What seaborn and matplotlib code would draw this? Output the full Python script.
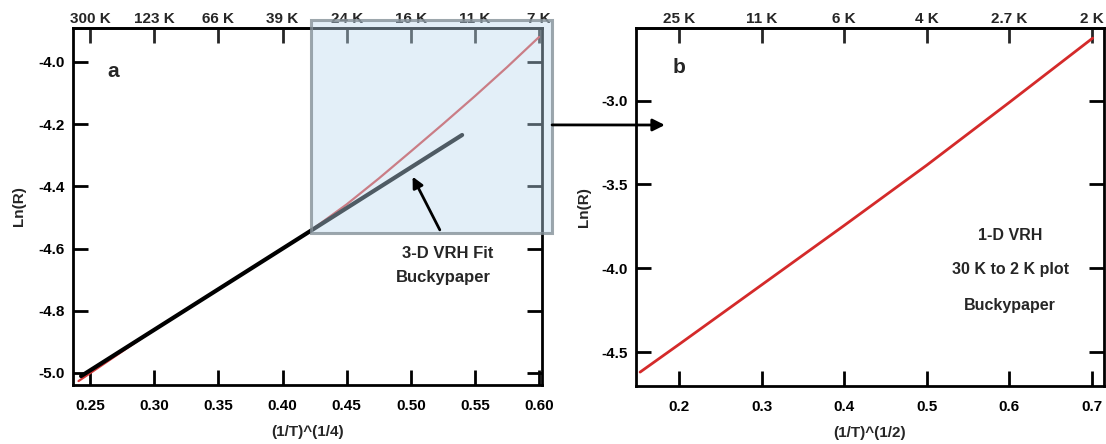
import matplotlib
matplotlib.use("Agg")
import matplotlib.pyplot as plt
from matplotlib.patches import Rectangle
import seaborn as sns
import numpy as np

# panel a: ln(R) vs (1/T)^(1/4)
a_x = [0.241, 0.30, 0.35, 0.40, 0.42, 0.45, 0.475, 0.50, 0.525, 0.55, 0.575, 0.600]
a_y = [-5.026, -4.861, -4.731, -4.600, -4.548, -4.458, -4.375, -4.288, -4.200, -4.110, -4.017, -3.92]
fit_x = [0.243, 0.540]
fit_y = [-5.010, -4.235]
a_xticks = [0.25, 0.30, 0.35, 0.40, 0.45, 0.50, 0.55, 0.60]
a_toplabels = ["300 K", "123 K", "66 K", "39 K", "24 K", "16 K", "11 K", "7 K"]
a_yticks = [-5.0, -4.8, -4.6, -4.4, -4.2, -4.0]

# panel b: ln(R) vs (1/T)^(1/2)
b_x = [0.153, 0.20, 0.30, 0.40, 0.50, 0.60, 0.701]
b_y = [-4.62, -4.455, -4.10, -3.745, -3.385, -3.01, -2.626]
b_xticks = [0.2, 0.3, 0.4, 0.5, 0.6, 0.7]
b_toplabels = ["25 K", "11 K", "6 K", "4 K", "2.7 K", "2 K"]
b_yticks = [-4.5, -4.0, -3.5, -3.0]

sns.set_theme(style="ticks")
plt.rcParams['font.family'] = ['Liberation Sans', 'DejaVu Sans']
plt.rcParams['font.weight'] = 'bold'

fig = plt.figure(figsize=(11.06, 4.44), dpi=100)
ax1 = fig.add_axes([0.0660, 0.1329, 0.4241, 0.8041])
ax2 = fig.add_axes([0.5750, 0.1306, 0.4231, 0.8063])

FS = 11


def style_axis(ax, xticks, yticks, toplabels, xfmt, yfmt):
    ax.set_xticks(xticks)
    ax.set_xticklabels([xfmt.format(v) for v in xticks], fontweight='bold')
    ax.set_yticks(yticks)
    ax.set_yticklabels([yfmt.format(v) for v in yticks], fontweight='bold')
    ax.tick_params(axis='both', direction='in', length=11, width=2,
                   labelsize=FS, colors='black', right=True)
    ax.tick_params(axis='x', pad=10)
    ax.tick_params(axis='y', pad=6)
    for s in ax.spines.values():
        s.set_linewidth(2)
        s.set_color('black')
        s.set_visible(True)
    sec = ax.secondary_xaxis('top', functions=(lambda v: v, lambda v: v))
    sec.set_xticks(xticks, labels=toplabels, fontweight='bold')
    sec.tick_params(direction='in', length=11, width=2, labelsize=FS, pad=1.5)
    sec.spines['top'].set_linewidth(2)


# panel a
sns.lineplot(x=a_x, y=a_y, color='#d43a3a', linewidth=1.6, ax=ax1)
sns.lineplot(x=fit_x, y=fit_y, color='black', linewidth=3, ax=ax1)
ax1.set_xlim(0.2367, 0.6023)
ax1.set_ylim(-5.0386, -3.891)
style_axis(ax1, a_xticks, a_yticks, a_toplabels, "{:.2f}", "{:.1f}")
ax1.set_xlabel("(1/T)^(1/4)", fontsize=FS, fontweight='bold')
ax1.set_ylabel("Ln(R)", fontsize=FS, fontweight='bold')
ax1.xaxis.set_label_coords(0.5, -0.112)
ax1.yaxis.set_label_coords(-0.100, 0.5)
ax1.text(0.268, -4.03, "a", fontsize=15, fontweight='bold', ha='center', va='center')

# zoom box
ax1.add_patch(Rectangle((0.4223, -4.551), 0.6101 - 0.4223, 4.551 - 3.866,
                        facecolor=(0.74, 0.86, 0.94, 0.42),
                        edgecolor=(0.52, 0.57, 0.60, 0.8),
                        linewidth=2.2, clip_on=False, zorder=10))
ax1.annotate("", xy=(0.5014, -4.369), xytext=(0.5226, -4.54),
             arrowprops=dict(arrowstyle='-|>', color='black', lw=2,
                             mutation_scale=16, shrinkA=0, shrinkB=0),
             zorder=11)
ax1.text(0.529, -4.615, "3-D VRH Fit", fontsize=12, ha='center', va='center')
ax1.text(0.525, -4.692, "Buckypaper", fontsize=12, ha='center', va='center')

# panel b
sns.lineplot(x=b_x, y=b_y, color='#d42a2a', linewidth=2, ax=ax2)
ax2.set_xlim(0.148, 0.7145)
ax2.set_ylim(-4.703, -2.566)
style_axis(ax2, b_xticks, b_yticks, b_toplabels, "{:.1f}", "{:.1f}")
ax2.set_xlabel("(1/T)^(1/2)", fontsize=FS, fontweight='bold')
ax2.set_ylabel("Ln(R)", fontsize=FS, fontweight='bold')
ax2.xaxis.set_label_coords(0.5, -0.112)
ax2.yaxis.set_label_coords(-0.096, 0.5)
ax2.text(0.20, -2.80, "b", fontsize=15, fontweight='bold', ha='center', va='center')
for txt, yy in [("1-D VRH", -3.802), ("30 K to 2 K plot", -4.007), ("Buckypaper", -4.22)]:
    ax2.text(0.601, yy, txt, fontsize=11.5, ha='center', va='center')

# arrow from zoom box to panel b (owned by ax2 so it is drawn on top)
ax2.annotate("", xy=(0.183, -3.145), xycoords=ax2.transData,
             xytext=(0.6101, -4.2026), textcoords=ax1.transData,
             arrowprops=dict(arrowstyle='-|>', color='black', lw=2,
                             mutation_scale=18, shrinkA=0, shrinkB=0),
             annotation_clip=False)

plt.savefig("out.png", dpi=100)
